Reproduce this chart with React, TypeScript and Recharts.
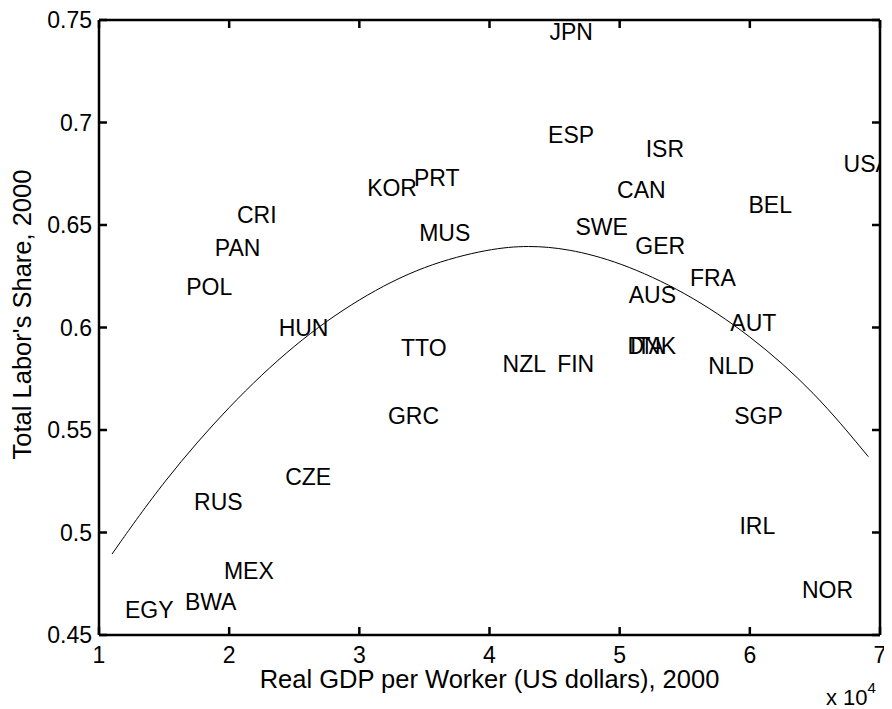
import React from 'react';
import { ComposedChart, Scatter, Line, XAxis, YAxis } from 'recharts';

const countries = ['JPN', 'ESP', 'ISR', 'USA', 'KOR', 'PRT', 'CAN', 'BEL', 'CRI', 'PAN', 'MUS', 'SWE', 'GER', 'FRA', 'POL', 'AUS', 'AUT', 'HUN', 'TTO', 'DNK', 'ITA', 'NZL', 'FIN', 'NLD', 'GRC', 'SGP', 'CZE', 'RUS', 'IRL', 'MEX', 'BWA', 'EGY', 'NOR'];
const gdpPerWorker = [4.46, 4.45, 5.2, 6.72, 3.06, 3.42, 4.98, 5.99, 2.06, 1.89, 3.46, 4.66, 5.12, 5.54, 1.67, 5.07, 5.85, 2.38, 3.32, 5.06, 5.08, 4.1, 4.52, 5.68, 3.22, 5.88, 2.43, 1.73, 5.92, 1.96, 1.66, 1.2, 6.4];
const laborShare = [0.744, 0.694, 0.687, 0.68, 0.668, 0.673, 0.667, 0.66, 0.655, 0.639, 0.646, 0.649, 0.64, 0.624, 0.62, 0.616, 0.602, 0.6, 0.59, 0.591, 0.591, 0.582, 0.582, 0.581, 0.557, 0.557, 0.527, 0.515, 0.503, 0.481, 0.466, 0.462, 0.472];

const fitX = [1.1, 1.5, 2.0, 2.5, 3.0, 3.5, 4.0, 4.3, 4.6, 5.0, 5.5, 6.0, 6.5, 6.91];
const fitY = [0.4895, 0.5255, 0.562, 0.592, 0.6145, 0.6305, 0.6385, 0.640, 0.6385, 0.632, 0.6175, 0.5965, 0.5685, 0.537];

const xTicks = [1, 2, 3, 4, 5, 6, 7];
const xTickLabels = ['1', '2', '3', '4', '5', '6', '7'];
const yTicks = [0.45, 0.5, 0.55, 0.6, 0.65, 0.7, 0.75];
const yTickLabels = ['0.45', '0.5', '0.55', '0.6', '0.65', '0.7', '0.75'];

const xTitle = 'Real GDP per Worker (US dollars), 2000';
const yTitle = "Total Labor's Share, 2000";
const xExponentBase = 'x 10';
const xExponent = '4';

const FONT = '"Liberation Sans", Arial, Helvetica, sans-serif';
const FS = 23;
const TITLE_FS = 25.5;
const TICK_LEN = 8;
const AX_W = 2.5;

const pointData = countries.map((name, i) => ({ name, x: gdpPerWorker[i], y: laborShare[i] }));
const fitData = fitX.map((x, i) => ({ x, y: fitY[i] }));

const BottomTick = (props: any) => {
  const { x, y, payload, index } = props;
  return (
    <g>
      <line x1={x} y1={y} x2={x} y2={y - TICK_LEN} stroke="#000" strokeWidth={AX_W} />
      <text x={x} y={y + 28} textAnchor="middle" fontFamily={FONT} fontSize={FS} fill="#000">
        {xTickLabels[index] ?? String(payload.value)}
      </text>
    </g>
  );
};

const TopTick = (props: any) => {
  const { x, y } = props;
  return <line x1={x} y1={y} x2={x} y2={y + TICK_LEN} stroke="#000" strokeWidth={AX_W} />;
};

const LeftTick = (props: any) => {
  const { x, y, payload, index } = props;
  return (
    <g>
      <line x1={x} y1={y} x2={x + TICK_LEN} y2={y} stroke="#000" strokeWidth={AX_W} />
      <text x={x - 7} y={y} textAnchor="end" dominantBaseline="central" fontFamily={FONT} fontSize={FS} fill="#000">
        {yTickLabels[index] ?? String(payload.value)}
      </text>
    </g>
  );
};

const RightTick = (props: any) => {
  const { x, y } = props;
  return <line x1={x} y1={y} x2={x - TICK_LEN} y2={y} stroke="#000" strokeWidth={AX_W} />;
};

const CountryLabel = (props: any) => {
  const { cx, cy, payload } = props;
  if (cx == null || cy == null) return null;
  return (
    <text x={cx} y={cy} dominantBaseline="central" textAnchor="start" fontFamily={FONT} fontSize={FS} fill="#000">
      {payload.name}
    </text>
  );
};

const XTitle = (props: any) => {
  const vb = props.viewBox || {};
  const left = vb.x ?? 0;
  const w = vb.width ?? 0;
  const top = vb.y ?? 0;
  return (
    <g>
      <text x={left + w / 2} y={top + 53} textAnchor="middle" fontFamily={FONT} fontSize={TITLE_FS} fill="#000">
        {xTitle}
      </text>
      <text x={left + w - 54} y={top + 70} textAnchor="start" fontFamily={FONT} fontSize={FS - 1} fill="#000">
        {xExponentBase}
        <tspan dy={-12} fontSize={15}>{xExponent}</tspan>
      </text>
    </g>
  );
};

const YTitle = (props: any) => {
  const vb = props.viewBox || {};
  const cy = (vb.y ?? 0) + (vb.height ?? 0) / 2 - 13;
  const x = 14;
  return (
    <text x={x} y={cy} transform={`rotate(-90 ${x} ${cy})`} textAnchor="middle" dominantBaseline="central" fontFamily={FONT} fontSize={TITLE_FS} fill="#000">
      {yTitle}
    </text>
  );
};

export default function App() {
  return (
    <div style={{ width: 884, height: 701, background: '#fff' }}>
      <ComposedChart width={884} height={701} margin={{ top: 0, right: 0, bottom: 0, left: 0 }}>
        <XAxis
          xAxisId="bottom"
          dataKey="x"
          type="number"
          domain={[1, 7]}
          ticks={xTicks}
          allowDataOverflow
          orientation="bottom"
          height={74}
          interval={0}
          tickSize={0}
          tickMargin={0}
          tickLine={false}
          axisLine={{ stroke: '#000', strokeWidth: AX_W }}
          tick={<BottomTick />}
          label={<XTitle />}
        />
        <XAxis
          xAxisId="top"
          dataKey="x"
          type="number"
          domain={[1, 7]}
          ticks={xTicks}
          allowDataOverflow
          orientation="top"
          height={12}
          interval={0}
          tickSize={0}
          tickMargin={0}
          tickLine={false}
          axisLine={{ stroke: '#000', strokeWidth: AX_W }}
          tick={<TopTick />}
        />
        <YAxis
          yAxisId="left"
          dataKey="y"
          type="number"
          domain={[0.45, 0.75]}
          ticks={yTicks}
          allowDataOverflow
          orientation="left"
          width={91}
          interval={0}
          tickSize={0}
          tickMargin={0}
          tickLine={false}
          axisLine={{ stroke: '#000', strokeWidth: AX_W }}
          tick={<LeftTick />}
          label={<YTitle />}
        />
        <YAxis
          yAxisId="right"
          dataKey="y"
          type="number"
          domain={[0.45, 0.75]}
          ticks={yTicks}
          allowDataOverflow
          orientation="right"
          width={12}
          interval={0}
          tickSize={0}
          tickMargin={0}
          tickLine={false}
          axisLine={{ stroke: '#000', strokeWidth: AX_W }}
          tick={<RightTick />}
        />
        <Line
          xAxisId="bottom"
          yAxisId="left"
          data={fitData}
          dataKey="y"
          type="basis"
          stroke="#000"
          strokeWidth={1}
          dot={false}
          activeDot={false}
          isAnimationActive={false}
        />
        <Scatter
          xAxisId="bottom"
          yAxisId="left"
          data={pointData}
          dataKey="y"
          shape={<CountryLabel />}
          isAnimationActive={false}
        />
      </ComposedChart>
    </div>
  );
}
